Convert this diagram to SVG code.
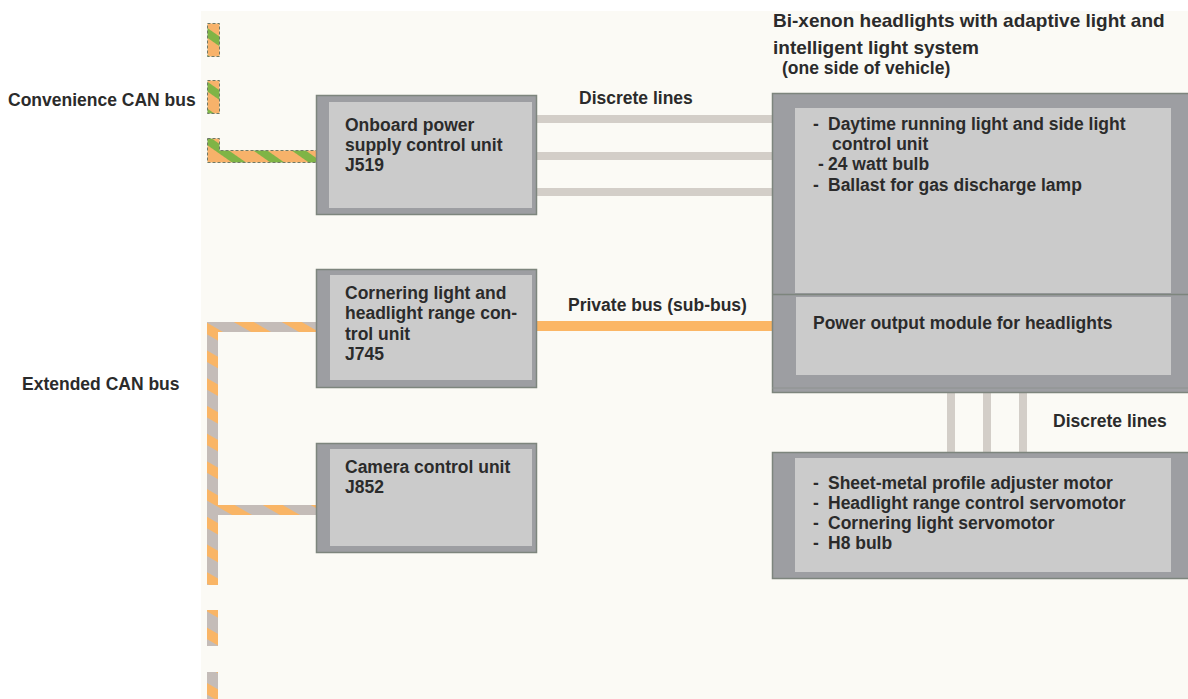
<svg xmlns="http://www.w3.org/2000/svg" width="1188" height="699" viewBox="0 0 1188 699">
<style>
.t{font-family:"Liberation Sans",Arial,sans-serif;font-weight:700;font-size:17.5px;fill:#2b2b2b}
.ttl{font-size:19px}
.sm{font-size:17.5px}
.outer{fill:#9d9ea2;stroke:#7d857d;stroke-width:1.5}
.inner{fill:#cbcbcb}
.disc{stroke:#d3cec8;stroke-width:8;fill:none}
</style>
<defs>
<pattern id="conv" width="22" height="22" patternUnits="userSpaceOnUse" patternTransform="rotate(-55)">
<rect width="22" height="22" fill="#f7b26a"/>
<rect width="8" height="22" fill="#7fb446"/>
</pattern>
<pattern id="ext" width="24" height="24" patternUnits="userSpaceOnUse" patternTransform="rotate(-60)">
<rect width="24" height="24" fill="#c4bcb8"/>
<rect x="6" width="10" height="24" fill="#f9b566"/>
</pattern>
</defs>
<rect x="201" y="11" width="987" height="688" fill="#fbfaf5"/>

<g id="labels">
<text class="t" x="8" y="106">Convenience CAN bus</text>
<text class="t" x="22" y="390">Extended CAN bus</text>
<text class="t" x="579" y="104">Discrete lines</text>
<text class="t" x="568" y="311">Private bus (sub-bus)</text>
<text class="t" x="1053" y="427">Discrete lines</text>
<text class="t ttl"><tspan x="773" y="27">Bi-xenon headlights with adaptive light and</tspan><tspan x="773" y="54">intelligent light system</tspan><tspan class="sm" x="782" y="74">(one side of vehicle)</tspan></text>
</g>

<g id="connectors">
<g stroke="#6e7a66" stroke-width="1" stroke-dasharray="3 2">
<rect x="207.5" y="23.5" width="12" height="33" fill="url(#conv)"/>
<rect x="207.5" y="80.5" width="12" height="33" fill="url(#conv)"/>
<path d="M207.5 138.5 H219.5 V150.5 H317 V162.5 H207.5 Z" fill="url(#conv)"/>
</g>
<path d="M207 322 H317 V332 H218 V505 H317 V515 H218 V585 H207 Z" fill="url(#ext)"/>
<rect x="207" y="610" width="11" height="36" fill="url(#ext)"/>
<rect x="207" y="672" width="11" height="27" fill="url(#ext)"/>
<path class="disc" d="M537 119 H775 M537 156 H775 M537 192 H775"/>
<path d="M537 326 H775" stroke="#fbb665" stroke-width="10"/>
<path class="disc" d="M951 393 V453 M987 393 V453 M1023 393 V453"/>
</g>

<g id="j519">
<rect class="outer" x="316.5" y="95.5" width="220" height="119"/>
<rect class="inner" x="329" y="102" width="203" height="106"/>
<text class="t"><tspan x="345" y="131">Onboard power</tspan><tspan x="345" y="151">supply control unit</tspan><tspan x="345" y="171">J519</tspan></text>
</g>

<g id="j745">
<rect class="outer" x="316.5" y="269.5" width="220" height="118"/>
<rect class="inner" x="330" y="275" width="202" height="105"/>
<text class="t"><tspan x="345" y="299">Cornering light and</tspan><tspan x="345" y="319">headlight range con-</tspan><tspan x="345" y="340">trol unit</tspan><tspan x="345" y="360">J745</tspan></text>
</g>

<g id="j852">
<rect class="outer" x="316.5" y="443.5" width="220" height="109"/>
<rect class="inner" x="330" y="449" width="202" height="97"/>
<text class="t"><tspan x="345" y="473">Camera control unit</tspan><tspan x="345" y="493">J852</tspan></text>
</g>

<g id="headlight">
<rect class="outer" x="772.5" y="93.5" width="420" height="299"/>
<rect class="inner" x="795" y="108" width="376" height="185"/>
<line x1="772" y1="294.5" x2="1188" y2="294.5" stroke="#7d857d" stroke-width="1.5"/>
<rect class="inner" x="796" y="297" width="375" height="78"/>
<line x1="772" y1="388" x2="1188" y2="388" stroke="#8e9290" stroke-width="1"/>
<text class="t"><tspan x="813" y="130">-</tspan><tspan x="828" y="130">Daytime running light and side light</tspan><tspan x="832" y="150">control unit</tspan><tspan x="818" y="170">-</tspan><tspan x="828" y="170">24 watt bulb</tspan><tspan x="813" y="191">-</tspan><tspan x="828" y="191">Ballast for gas discharge lamp</tspan></text>
<text class="t" x="813" y="329">Power output module for headlights</text>
</g>

<g id="actuators">
<rect class="outer" x="772.5" y="452.5" width="420" height="126"/>
<rect class="inner" x="795" y="458" width="376" height="114"/>
<text class="t"><tspan x="813" y="489">-</tspan><tspan x="828" y="489">Sheet-metal profile adjuster motor</tspan><tspan x="813" y="509">-</tspan><tspan x="828" y="509">Headlight range control servomotor</tspan><tspan x="813" y="529">-</tspan><tspan x="828" y="529">Cornering light servomotor</tspan><tspan x="813" y="549">-</tspan><tspan x="828" y="549">H8 bulb</tspan></text>
</g>
</svg>
